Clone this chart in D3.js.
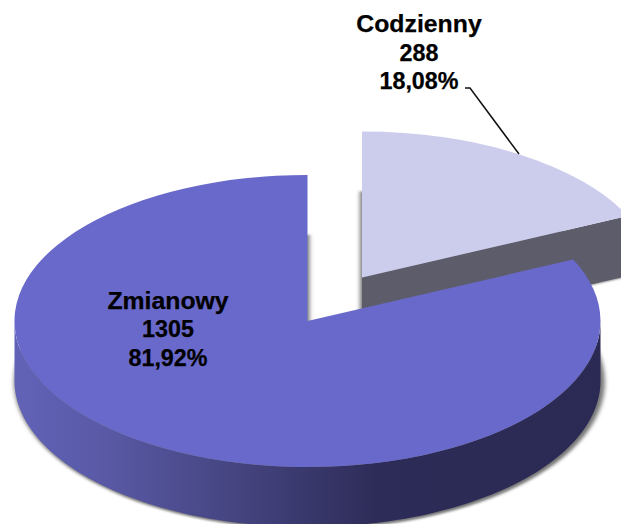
<!DOCTYPE html>
<html><head><meta charset="utf-8">
<script src="https://cdn.jsdelivr.net/npm/d3@7"></script>
<style>html,body{margin:0;padding:0;background:#fff;overflow:hidden}svg{display:block}
text{font-family:"Liberation Sans",Arial,sans-serif;font-weight:700;fill:#000;stroke:#000;stroke-width:.25px;text-anchor:middle}</style>
</head><body><div id="c"></div>
<script>
const categories = ["Codzienny", "Zmianowy"];
const counts = [288, 1305];
const percentLabels = ["18,08%", "81,92%"];
const topColors = ["#ccccec", "#6969cc"];

const W = 621, H = 524, rx = 293, ry = 146, depth = 60;
const centers = [[362, 277.5], [307.5, 321]];
const labelCenters = [[419, 32], [168, 308.5]];
const lineGap = 28.5;

const svg = d3.select("#c").append("svg").attr("width", W).attr("height", H);
const defs = svg.append("defs");
defs.append("filter").attr("id", "soft")
  .attr("x", "-10%").attr("y", "-10%").attr("width", "120%").attr("height", "120%")
  .append("feGaussianBlur").attr("stdDeviation", 2);

const grad = defs.append("linearGradient").attr("id", "rim")
  .attr("gradientUnits", "userSpaceOnUse")
  .attr("x1", 14).attr("x2", 600).attr("y1", 0).attr("y2", 0);
[[0, "#6262b8"], [0.14, "#5a5aa8"], [0.38, "#454480"], [0.62, "#2d2c58"], [1, "#2b2a54"]]
  .forEach(([o, c]) => grad.append("stop").attr("offset", o).attr("stop-color", c));

const pie = d3.pie().sort(null).value(d => d)(counts);
const arc = d3.arc().innerRadius(0).outerRadius(rx);
const px = (c, a) => c[0] + rx * Math.sin(a);
const py = (c, a) => c[1] - ry * Math.cos(a);
const scaleY = ry / rx;
const tf = c => `translate(${c[0]},${c[1]}) scale(1,${scaleY})`;

// soft shadow under each slice
pie.forEach((p, i) => {
  svg.append("path").attr("d", arc(p))
     .attr("transform", `translate(${centers[i][0] + (i ? 2 : -2)},${centers[i][1] + depth + 1}) scale(1.008,${scaleY * 1.008})`)
     .attr("fill", "#777").attr("filter", "url(#soft)");
});

const rimArea = c => d3.area().x(a => px(c, a)).y0(a => py(c, a)).y1(a => py(c, a) + depth);

[0, 1].forEach(i => {
  const p = pie[i], c = centers[i];
  const lo = Math.max(p.startAngle, Math.PI / 2), hi = Math.min(p.endAngle, 3 * Math.PI / 2);
  const n = 120;
  if (hi > lo) {
    const angles = d3.range(n + 1).map(k => lo + (hi - lo) * k / n);
    svg.append("path").attr("d", rimArea(c)(angles))
       .attr("fill", i ? "url(#rim)" : "#5d5c6b");
  }
  if (i === 0) {
    const a = p.endAngle;
    svg.append("path").attr("d", d3.line()([
      [c[0], c[1]], [px(c, a), py(c, a)], [px(c, a), py(c, a) + depth], [c[0], c[1] + depth]
    ]) + "Z").attr("fill", "#5d5c6b");
  }
  svg.append("path").attr("d", arc(p)).attr("transform", tf(c)).attr("fill", topColors[i]);
});

// leader line
svg.append("path").attr("d", d3.line()([[465, 88], [470, 88], [519, 154]]))
   .attr("fill", "none").attr("stroke", "#111").attr("stroke-width", 1.5);

// labels
categories.forEach((name, i) => {
  [name, String(counts[i]), percentLabels[i]].forEach((t, k) => {
    svg.append("text").attr("x", labelCenters[i][0]).attr("y", labelCenters[i][1] + k * lineGap)
       .attr("font-size", k === 0 ? 24.8 : 23.3).text(t);
  });
});
</script></body></html>
